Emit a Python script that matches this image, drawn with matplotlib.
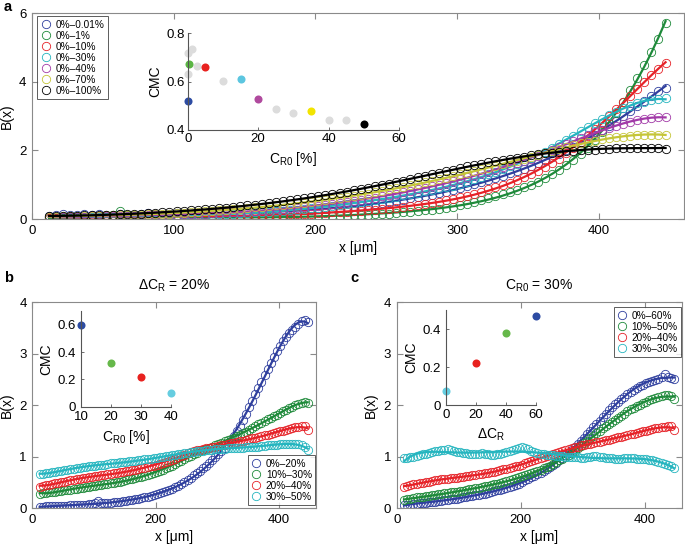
import numpy as np
import matplotlib
matplotlib.use('Agg')
import matplotlib.pyplot as plt

plt.rcParams['font.family'] = ['Liberation Sans', 'DejaVu Sans']
plt.rcParams['mathtext.default'] = 'regular'

# ---------------- data ----------------
x_um = np.arange(12, 448, 5)  # sampling positions [um], 88 points

# panel a : B(x) for ΔC_R series starting from 0%
a_labels = ['0%–0.01%', '0%–1%', '0%–10%', '0%–30%', '0%–40%', '0%–70%', '0%–100%']
a_blue = [0.09, 0.12, 0.14, 0.11, 0.13, 0.15, 0.12, 0.14, 0.11, 0.13,
          0.15, 0.13, 0.12, 0.15, 0.17, 0.14, 0.13, 0.15, 0.18, 0.16,
          0.15, 0.17, 0.16, 0.18, 0.17, 0.19, 0.18, 0.20, 0.19, 0.21,
          0.21, 0.22, 0.22, 0.23, 0.24, 0.25, 0.25, 0.27, 0.28, 0.29,
          0.31, 0.33, 0.35, 0.37, 0.39, 0.42, 0.44, 0.47, 0.50, 0.53,
          0.56, 0.60, 0.63, 0.67, 0.71, 0.75, 0.80, 0.85, 0.90, 0.95,
          1.01, 1.07, 1.13, 1.19, 1.26, 1.33, 1.40, 1.47, 1.55, 1.63,
          1.72, 1.80, 1.90, 2.00, 2.10, 2.21, 2.33, 2.46, 2.58, 2.72,
          2.85, 3.00, 3.14, 3.29, 3.44, 3.59, 3.74, 3.82]
a_green = [0.03, 0.03, 0.02, 0.03, 0.04, 0.03, 0.03, 0.04, 0.05, 0.12,
           0.22, 0.12, 0.05, 0.04, 0.04, 0.05, 0.04, 0.04, 0.05, 0.05,
           0.05, 0.05, 0.05, 0.05, 0.05, 0.06, 0.05, 0.06, 0.06, 0.06,
           0.06, 0.06, 0.07, 0.07, 0.07, 0.07, 0.08, 0.08, 0.08, 0.09,
           0.09, 0.10, 0.10, 0.11, 0.12, 0.13, 0.14, 0.15, 0.16, 0.18,
           0.19, 0.21, 0.23, 0.25, 0.27, 0.30, 0.33, 0.36, 0.40, 0.44,
           0.49, 0.54, 0.60, 0.66, 0.72, 0.78, 0.84, 0.92, 0.99, 1.08,
           1.18, 1.30, 1.43, 1.57, 1.72, 1.90, 2.08, 2.30, 2.53, 2.80,
           3.10, 3.42, 3.76, 4.12, 4.48, 4.86, 5.25, 5.72]
a_red = [0.04, 0.04, 0.05, 0.05, 0.05, 0.05, 0.05, 0.06, 0.06, 0.06,
         0.06, 0.06, 0.06, 0.07, 0.07, 0.07, 0.07, 0.07, 0.08, 0.08,
         0.08, 0.08, 0.09, 0.09, 0.09, 0.10, 0.10, 0.10, 0.11, 0.11,
         0.12, 0.12, 0.13, 0.13, 0.14, 0.15, 0.15, 0.16, 0.17, 0.18,
         0.19, 0.20, 0.21, 0.22, 0.24, 0.25, 0.27, 0.28, 0.30, 0.32,
         0.35, 0.37, 0.40, 0.43, 0.46, 0.50, 0.54, 0.58, 0.63, 0.68,
         0.74, 0.80, 0.86, 0.92, 0.99, 1.06, 1.13, 1.21, 1.30, 1.40,
         1.51, 1.63, 1.76, 1.91, 2.07, 2.25, 2.43, 2.62, 2.81, 3.00,
         3.20, 3.40, 3.59, 3.79, 3.98, 4.18, 4.38, 4.55]
a_cyan = [0.05, 0.05, 0.05, 0.06, 0.06, 0.06, 0.06, 0.07, 0.07, 0.07,
          0.07, 0.08, 0.08, 0.08, 0.09, 0.09, 0.09, 0.10, 0.10, 0.11,
          0.11, 0.12, 0.13, 0.13, 0.14, 0.15, 0.16, 0.17, 0.18, 0.19,
          0.20, 0.21, 0.23, 0.24, 0.26, 0.27, 0.29, 0.31, 0.33, 0.35,
          0.38, 0.41, 0.43, 0.46, 0.49, 0.52, 0.55, 0.58, 0.62, 0.65,
          0.69, 0.73, 0.77, 0.81, 0.85, 0.89, 0.93, 0.97, 1.03, 1.09,
          1.16, 1.23, 1.31, 1.38, 1.46, 1.54, 1.61, 1.69, 1.77, 1.86,
          1.96, 2.07, 2.19, 2.31, 2.43, 2.55, 2.68, 2.80, 2.92, 3.03,
          3.13, 3.22, 3.30, 3.37, 3.42, 3.46, 3.49, 3.51]
a_magenta = [0.06, 0.06, 0.06, 0.07, 0.07, 0.07, 0.08, 0.08, 0.08, 0.09,
             0.09, 0.10, 0.10, 0.10, 0.11, 0.11, 0.12, 0.12, 0.13, 0.14,
             0.14, 0.15, 0.16, 0.17, 0.18, 0.19, 0.20, 0.21, 0.22, 0.24,
             0.25, 0.27, 0.28, 0.30, 0.31, 0.33, 0.35, 0.37, 0.39, 0.42,
             0.44, 0.47, 0.50, 0.53, 0.56, 0.59, 0.62, 0.66, 0.70, 0.74,
             0.78, 0.82, 0.86, 0.91, 0.95, 1.00, 1.05, 1.10, 1.16, 1.21,
             1.27, 1.33, 1.39, 1.45, 1.51, 1.57, 1.63, 1.69, 1.76, 1.84,
             1.92, 2.01, 2.10, 2.19, 2.28, 2.36, 2.44, 2.52, 2.59, 2.66,
             2.72, 2.78, 2.83, 2.87, 2.91, 2.94, 2.96, 2.98]
a_yellow = [0.07, 0.07, 0.08, 0.08, 0.09, 0.09, 0.10, 0.10, 0.11, 0.11,
            0.12, 0.12, 0.13, 0.13, 0.14, 0.15, 0.15, 0.16, 0.17, 0.18,
            0.19, 0.21, 0.22, 0.24, 0.25, 0.27, 0.28, 0.30, 0.32, 0.34,
            0.36, 0.38, 0.40, 0.42, 0.44, 0.46, 0.48, 0.50, 0.52, 0.55,
            0.58, 0.61, 0.64, 0.67, 0.71, 0.74, 0.78, 0.82, 0.86, 0.90,
            0.94, 0.98, 1.02, 1.07, 1.11, 1.16, 1.20, 1.25, 1.30, 1.35,
            1.40, 1.45, 1.50, 1.55, 1.60, 1.65, 1.70, 1.75, 1.80, 1.86,
            1.92, 1.98, 2.04, 2.10, 2.15, 2.20, 2.24, 2.28, 2.32, 2.35,
            2.38, 2.40, 2.42, 2.44, 2.45, 2.46, 2.46, 2.46]
a_black = [0.08, 0.09, 0.09, 0.10, 0.10, 0.11, 0.11, 0.12, 0.12, 0.13,
           0.14, 0.14, 0.15, 0.16, 0.17, 0.18, 0.19, 0.20, 0.22, 0.23,
           0.25, 0.26, 0.28, 0.30, 0.31, 0.33, 0.35, 0.37, 0.40, 0.42,
           0.44, 0.47, 0.49, 0.52, 0.55, 0.57, 0.60, 0.63, 0.66, 0.70,
           0.73, 0.77, 0.80, 0.84, 0.88, 0.91, 0.95, 0.99, 1.03, 1.08,
           1.12, 1.17, 1.21, 1.26, 1.30, 1.35, 1.39, 1.44, 1.48, 1.53,
           1.57, 1.61, 1.65, 1.69, 1.73, 1.76, 1.79, 1.82, 1.85, 1.88,
           1.91, 1.93, 1.95, 1.97, 1.98, 2.00, 2.01, 2.02, 2.04, 2.05,
           2.06, 2.07, 2.08, 2.08, 2.08, 2.07, 2.06, 2.05]

# inset a : CMC vs C_R0
cr0_gray = [0, 1.1, 0, 2.7, 10, 25, 30, 40, 45]
cmc_gray = [0.717, 0.733, 0.633, 0.664, 0.603, 0.487, 0.470, 0.443, 0.440]
cr0_col = [0, 0.5, 5, 15, 20, 35, 50]
cmc_col = [0.522, 0.675, 0.660, 0.610, 0.530, 0.480, 0.425]

# panel b : ΔC_R = 20%
b_labels = ['0%–20%', '10%–30%', '20%–40%', '30%–50%']
b_blue = [0.03, 0.03, 0.04, 0.04, 0.04, 0.04, 0.05, 0.05, 0.05, 0.05,
          0.06, 0.06, 0.06, 0.07, 0.07, 0.07, 0.08, 0.08, 0.10, 0.14,
          0.11, 0.10, 0.10, 0.11, 0.12, 0.13, 0.13, 0.14, 0.15, 0.16,
          0.17, 0.18, 0.19, 0.20, 0.21, 0.22, 0.24, 0.25, 0.27, 0.29,
          0.31, 0.33, 0.35, 0.38, 0.41, 0.44, 0.48, 0.51, 0.55, 0.59,
          0.64, 0.68, 0.73, 0.78, 0.83, 0.88, 0.93, 0.99, 1.05, 1.11,
          1.17, 1.24, 1.31, 1.40, 1.50, 1.60, 1.72, 1.84, 1.96, 2.08,
          2.21, 2.33, 2.46, 2.59, 2.71, 2.83, 2.94, 3.05, 3.15, 3.24,
          3.32, 3.40, 3.47, 3.53, 3.58, 3.63, 3.66, 3.62]
b_green = [0.28, 0.29, 0.30, 0.31, 0.31, 0.32, 0.33, 0.34, 0.35, 0.35,
           0.36, 0.37, 0.38, 0.39, 0.40, 0.41, 0.42, 0.43, 0.44, 0.45,
           0.46, 0.47, 0.48, 0.49, 0.50, 0.51, 0.52, 0.53, 0.54, 0.56,
           0.57, 0.58, 0.60, 0.61, 0.63, 0.64, 0.66, 0.68, 0.70, 0.72,
           0.75, 0.78, 0.80, 0.83, 0.86, 0.89, 0.92, 0.95, 0.99, 1.02,
           1.05, 1.08, 1.11, 1.13, 1.15, 1.18, 1.20, 1.23, 1.25, 1.27,
           1.30, 1.32, 1.35, 1.37, 1.40, 1.43, 1.46, 1.49, 1.53, 1.56,
           1.60, 1.63, 1.66, 1.70, 1.73, 1.76, 1.79, 1.82, 1.85, 1.88,
           1.91, 1.94, 1.97, 2.00, 2.03, 2.05, 2.07, 2.05]
b_red = [0.42, 0.44, 0.45, 0.46, 0.48, 0.49, 0.50, 0.51, 0.52, 0.53,
         0.54, 0.55, 0.56, 0.57, 0.58, 0.59, 0.60, 0.61, 0.62, 0.63,
         0.64, 0.65, 0.66, 0.67, 0.68, 0.69, 0.70, 0.71, 0.72, 0.73,
         0.74, 0.75, 0.77, 0.78, 0.79, 0.80, 0.82, 0.83, 0.85, 0.86,
         0.88, 0.90, 0.92, 0.94, 0.96, 0.99, 1.01, 1.04, 1.07, 1.09,
         1.11, 1.13, 1.14, 1.16, 1.17, 1.18, 1.19, 1.20, 1.21, 1.22,
         1.23, 1.25, 1.26, 1.27, 1.28, 1.30, 1.31, 1.33, 1.34, 1.36,
         1.37, 1.39, 1.40, 1.42, 1.43, 1.45, 1.47, 1.48, 1.50, 1.51,
         1.53, 1.54, 1.56, 1.57, 1.58, 1.59, 1.59, 1.53]
b_cyan = [0.66, 0.67, 0.68, 0.69, 0.70, 0.71, 0.72, 0.73, 0.74, 0.75,
          0.76, 0.77, 0.78, 0.79, 0.80, 0.81, 0.82, 0.82, 0.83, 0.84,
          0.85, 0.85, 0.86, 0.87, 0.87, 0.88, 0.89, 0.89, 0.90, 0.91,
          0.92, 0.92, 0.93, 0.94, 0.95, 0.95, 0.96, 0.97, 0.98, 0.99,
          1.00, 1.01, 1.02, 1.03, 1.04, 1.05, 1.06, 1.07, 1.08, 1.09,
          1.10, 1.11, 1.12, 1.12, 1.13, 1.14, 1.14, 1.15, 1.15, 1.16,
          1.16, 1.17, 1.17, 1.17, 1.18, 1.18, 1.18, 1.19, 1.19, 1.19,
          1.20, 1.20, 1.21, 1.21, 1.22, 1.22, 1.23, 1.23, 1.24, 1.24,
          1.25, 1.25, 1.25, 1.25, 1.24, 1.23, 1.20, 1.13]
cr0_b = [10, 20, 30, 40]
cmc_b = [0.60, 0.32, 0.22, 0.10]

# panel c : C_R0 = 30%
c_labels = ['0%–60%', '10%–50%', '20%–40%', '30%–30%']
c_blue = [0.06, 0.07, 0.07, 0.08, 0.09, 0.10, 0.10, 0.11, 0.12, 0.13,
          0.13, 0.14, 0.15, 0.16, 0.17, 0.18, 0.19, 0.19, 0.20, 0.21,
          0.22, 0.23, 0.24, 0.25, 0.26, 0.27, 0.28, 0.30, 0.31, 0.33,
          0.35, 0.36, 0.38, 0.40, 0.42, 0.44, 0.46, 0.48, 0.51, 0.54,
          0.57, 0.60, 0.63, 0.66, 0.69, 0.73, 0.76, 0.80, 0.84, 0.88,
          0.93, 0.98, 1.03, 1.08, 1.13, 1.19, 1.25, 1.31, 1.37, 1.44,
          1.51, 1.57, 1.64, 1.70, 1.77, 1.83, 1.90, 1.96, 2.02, 2.07,
          2.12, 2.17, 2.22, 2.26, 2.30, 2.34, 2.37, 2.40, 2.43, 2.46,
          2.48, 2.50, 2.52, 2.54, 2.60, 2.55, 2.53, 2.51]
c_green = [0.17, 0.18, 0.19, 0.20, 0.21, 0.21, 0.22, 0.23, 0.24, 0.25,
           0.26, 0.27, 0.28, 0.29, 0.30, 0.31, 0.32, 0.32, 0.33, 0.34,
           0.35, 0.37, 0.38, 0.39, 0.40, 0.41, 0.43, 0.44, 0.45, 0.47,
           0.48, 0.50, 0.51, 0.53, 0.55, 0.56, 0.58, 0.60, 0.62, 0.64,
           0.66, 0.68, 0.71, 0.73, 0.75, 0.78, 0.81, 0.83, 0.86, 0.89,
           0.93, 0.96, 1.00, 1.04, 1.08, 1.12, 1.17, 1.21, 1.26, 1.31,
           1.36, 1.41, 1.46, 1.50, 1.55, 1.59, 1.64, 1.68, 1.72, 1.76,
           1.80, 1.84, 1.88, 1.92, 1.95, 1.98, 2.01, 2.04, 2.07, 2.10,
           2.12, 2.14, 2.16, 2.18, 2.20, 2.20, 2.18, 2.12]
c_red = [0.42, 0.44, 0.45, 0.47, 0.48, 0.49, 0.50, 0.51, 0.52, 0.53,
         0.54, 0.55, 0.56, 0.57, 0.57, 0.58, 0.59, 0.59, 0.60, 0.61,
         0.62, 0.63, 0.64, 0.65, 0.66, 0.67, 0.68, 0.69, 0.70, 0.71,
         0.73, 0.74, 0.76, 0.77, 0.79, 0.80, 0.82, 0.83, 0.85, 0.87,
         0.89, 0.91, 0.93, 0.95, 0.97, 0.99, 1.01, 1.03, 1.05, 1.07,
         1.09, 1.11, 1.13, 1.15, 1.17, 1.19, 1.20, 1.22, 1.23, 1.24,
         1.25, 1.27, 1.28, 1.29, 1.30, 1.32, 1.33, 1.35, 1.36, 1.38,
         1.39, 1.41, 1.42, 1.44, 1.45, 1.47, 1.48, 1.50, 1.51, 1.52,
         1.54, 1.55, 1.56, 1.57, 1.58, 1.59, 1.60, 1.52]
c_cyan = [0.98, 0.97, 0.99, 1.00, 1.02, 1.04, 1.05, 1.06, 1.08, 1.10,
          1.11, 1.12, 1.13, 1.14, 1.15, 1.14, 1.12, 1.10, 1.09, 1.08,
          1.07, 1.06, 1.05, 1.05, 1.06, 1.07, 1.06, 1.05, 1.04, 1.04,
          1.05, 1.06, 1.08, 1.10, 1.12, 1.14, 1.16, 1.18, 1.19, 1.18,
          1.15, 1.12, 1.09, 1.07, 1.06, 1.05, 1.04, 1.04, 1.03, 1.02,
          1.02, 1.01, 1.00, 0.99, 0.99, 0.99, 0.99, 0.98, 0.98, 0.99,
          1.00, 1.01, 1.01, 1.00, 0.99, 0.98, 0.97, 0.97, 0.96, 0.96,
          0.96, 0.97, 0.98, 0.98, 0.97, 0.96, 0.96, 0.95, 0.95, 0.94,
          0.93, 0.92, 0.90, 0.88, 0.86, 0.84, 0.82, 0.79]
dcr_c = [60, 40, 20, 0]
cmc_c = [0.468, 0.380, 0.223, 0.074]

# ---------------- styles ----------------
C_BLUE = '#2f3f9e'
C_GREEN = '#1e8a3a'
C_RED = '#e62228'
C_CYAN = '#25b5bf'
C_MAG = '#a23aa8'
C_YEL = '#c5c538'
C_BLK = '#000000'
a_colors = [C_BLUE, C_GREEN, C_RED, C_CYAN, C_MAG, C_YEL, C_BLK]
inset_a_colors = ['#2d4ca3', '#5bb544', '#e8221f', '#5cc6e0', '#b04a9e', '#f2e400', '#000000']
bc_colors = [C_BLUE, C_GREEN, C_RED, C_CYAN]
inset_bc_colors = ['#2d4ca3', '#66b84a', '#e8221f', '#66cde0']
SPINE = '#8a8a8a'
FS = 9.5
LFS = 10
LEGFS = 7.2

fig = plt.figure(figsize=(6.85, 5.45), dpi=100)


def fitline(y):
    xn = (x_um - 230.0) / 220.0
    return np.polyval(np.polyfit(xn, np.asarray(y), 7), xn)


def style_main(ax):
    for s in ax.spines.values():
        s.set_color(SPINE)
        s.set_linewidth(0.8)
    ax.tick_params(direction='in', length=4, width=0.8, color=SPINE,
                   top=True, right=True, labelsize=FS, pad=4)


def plot_series(ax, series, colors, labels):
    handles = []
    for y, c, lab in zip(series, colors, labels):
        h, = ax.plot(x_um, y, linestyle='none', marker='o', mfc='none',
                     mec=c, ms=6, mew=0.6, label=lab)
        ax.plot(x_um, fitline(y), color=c, lw=1.6)
        handles.append(h)
    return handles


def style_inset(ax):
    for side in ['top', 'right']:
        ax.spines[side].set_visible(False)
    for side in ['left', 'bottom']:
        ax.spines[side].set_color('#555555')
        ax.spines[side].set_linewidth(0.8)
    ax.tick_params(direction='in', length=2, width=0.6, color='#555555',
                   labelsize=FS, pad=2)
    ax.patch.set_alpha(0)


def make_legend(ax, handles, loc, anchor):
    lg = ax.legend(handles=handles, loc=loc, bbox_to_anchor=anchor,
                   borderaxespad=0, fontsize=LEGFS, frameon=True, fancybox=False,
                   handlelength=1.0, handletextpad=0.45, labelspacing=0.1,
                   borderpad=0.35)
    lg.get_frame().set_edgecolor('#333333')
    lg.get_frame().set_linewidth(0.7)
    return lg


# ---------------- panel a ----------------
axa = fig.add_axes([32/685, 1-219/545, 652/685, 206/545])
ha = plot_series(axa, [a_blue, a_green, a_red, a_cyan, a_magenta, a_yellow, a_black],
                 a_colors, a_labels)
axa.set_xlim(0, 460)
axa.set_ylim(0, 6)
axa.set_xticks([0, 100, 200, 300, 400])
axa.set_yticks([0, 2, 4, 6])
style_main(axa)
axa.set_xlabel('x [μm]', fontsize=LFS, labelpad=3)
axa.set_ylabel('B(x)', fontsize=LFS, labelpad=4)
make_legend(axa, ha, 'upper left', (0.008, 0.985))

ina = fig.add_axes([187.7/685, 1-130/545, 211.3/685, 96.7/545])
ina.plot(cr0_gray, cmc_gray, linestyle='none', marker='o', ms=5.8,
         color='#dcdcdc', mec='none', clip_on=False)
for xv, yv, c in zip(cr0_col, cmc_col, inset_a_colors):
    ina.plot([xv], [yv], linestyle='none', marker='o', ms=5.8, color=c,
             mec='none', clip_on=False)
ina.set_xlim(0, 60)
ina.set_ylim(0.4, 0.8)
ina.set_xticks([0, 20, 40, 60])
ina.set_yticks([0.4, 0.6, 0.8])
ina.set_yticklabels(['0.4', '0.6', '0.8'])
style_inset(ina)
ina.set_ylabel('CMC', fontsize=LFS, labelpad=3)
ina.set_xlabel('C$_{R0}$ [%]', fontsize=LFS, labelpad=4)

# ---------------- panel b ----------------
axb = fig.add_axes([32.3/685, 1-508.3/545, 283.4/685, 206/545])
hb = plot_series(axb, [b_blue, b_green, b_red, b_cyan], bc_colors, b_labels)
axb.set_xlim(0, 460)
axb.set_ylim(0, 4)
axb.set_xticks([0, 200, 400])
axb.set_yticks([0, 1, 2, 3, 4])
style_main(axb)
axb.set_xlabel('x [μm]', fontsize=LFS, labelpad=3)
axb.set_ylabel('B(x)', fontsize=LFS, labelpad=4)
axb.set_title('ΔC$_R$ = 20%', fontsize=LFS, pad=9)
make_legend(axb, hb, 'lower right', (0.999, 0.015))

inb = fig.add_axes([81/685, 1-406.7/545, 90/685, 95.4/545])
for xv, yv, c in zip(cr0_b, cmc_b, inset_bc_colors):
    inb.plot([xv], [yv], linestyle='none', marker='o', ms=5.8, color=c,
             mec='none', clip_on=False)
inb.set_xlim(10, 40)
inb.set_ylim(0, 0.7)
inb.set_xticks([10, 20, 30, 40])
inb.set_yticks([0, 0.2, 0.4, 0.6])
inb.set_yticklabels(['0', '0.2', '0.4', '0.6'])
style_inset(inb)
inb.tick_params(axis='y', pad=4)
inb.tick_params(axis='x', pad=3)
inb.set_ylabel('CMC', fontsize=LFS, labelpad=3)
inb.set_xlabel('C$_{R0}$ [%]', fontsize=LFS, labelpad=4)

# ---------------- panel c ----------------
axc = fig.add_axes([396.7/685, 1-508.3/545, 285.3/685, 206/545])
hc = plot_series(axc, [c_blue, c_green, c_red, c_cyan], bc_colors, c_labels)
axc.set_xlim(0, 460)
axc.set_ylim(0, 4)
axc.set_xticks([0, 200, 400])
axc.set_yticks([0, 1, 2, 3, 4])
style_main(axc)
axc.set_xlabel('x [μm]', fontsize=LFS, labelpad=3)
axc.set_ylabel('B(x)', fontsize=LFS, labelpad=4)
axc.set_title('C$_{R0}$ = 30%', fontsize=LFS, pad=9)
make_legend(axc, hc, 'upper right', (0.997, 0.977))

inc = fig.add_axes([446/685, 1-405/545, 90/685, 95/545])
for xv, yv, c in zip(dcr_c, cmc_c, inset_bc_colors):
    inc.plot([xv], [yv], linestyle='none', marker='o', ms=5.8, color=c,
             mec='none', clip_on=False)
inc.set_xlim(0, 60)
inc.set_ylim(0, 0.5)
inc.set_xticks([0, 20, 40, 60])
inc.set_yticks([0, 0.2, 0.4])
inc.set_yticklabels(['0', '0.2', '0.4'])
style_inset(inc)
inc.tick_params(axis='y', pad=4)
inc.tick_params(axis='x', pad=3)
inc.set_ylabel('CMC', fontsize=LFS, labelpad=3)
inc.set_xlabel('ΔC$_R$', fontsize=LFS, labelpad=4)

# panel letters
fig.text(4/685, 1-7/545, 'a', fontsize=10.5, fontweight='bold', va='center')
fig.text(4/685, 1-278/545, 'b', fontsize=10.5, fontweight='bold', va='center')
fig.text(350/685, 1-278/545, 'c', fontsize=10.5, fontweight='bold', va='center')

fig.savefig('out.png', dpi=100)
